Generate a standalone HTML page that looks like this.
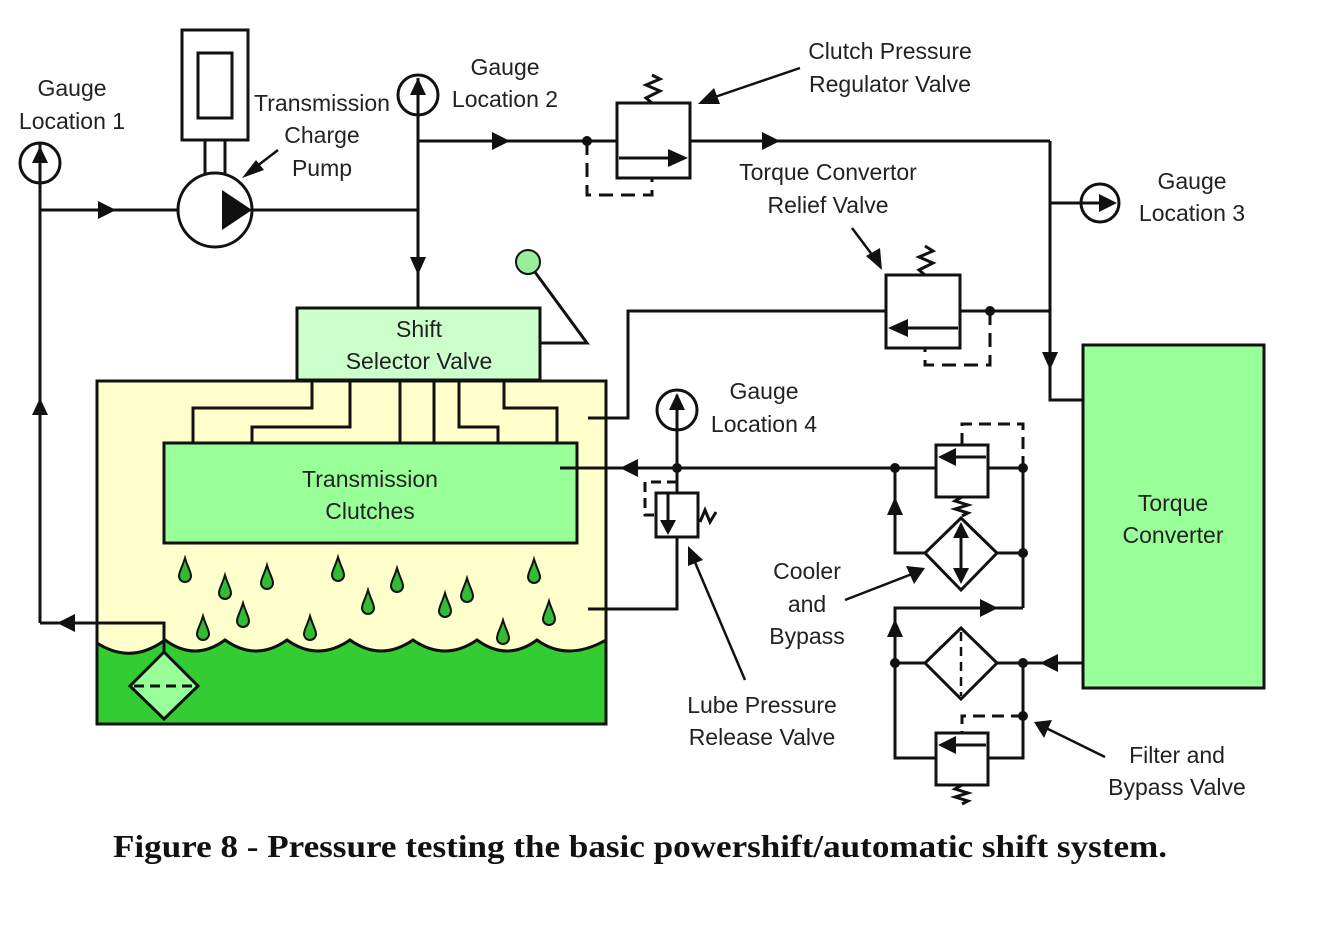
<!DOCTYPE html>
<html><head><meta charset="utf-8"><style>
html,body{margin:0;padding:0;background:#fff;}
svg{display:block}
text{font-family:"Liberation Sans",Arial,sans-serif;font-size:23px;fill:#222;}
</style></head><body>
<svg width="1334" height="931" viewBox="0 0 1334 931" xmlns="http://www.w3.org/2000/svg">
<g stroke="#111" stroke-width="3" fill="none">
<!-- sump box -->
<rect x="97" y="381" width="509" height="343" fill="#ffffcc"/>
<path d="M97,643 Q131,665 165,640 Q195,662 225,640 Q256,662 287,640 Q318,662 350,640 Q381,662 413,640 Q445,662 477,640 Q507,662 537,640 Q567,662 606,640 L606,724 L97,724 Z" fill="#33cc33"/>
<!-- selector -->
<rect x="297" y="308" width="243" height="72" fill="#ccffcc"/>
<!-- clutches -->
<rect x="164" y="443" width="413" height="100" fill="#99ff99"/>
<!-- selector to clutches lines -->
<polyline points="312,381 312,408 193,408 193,443"/>
<polyline points="350,381 350,427 252,427 252,443"/>
<line x1="400" y1="381" x2="400" y2="443"/>
<line x1="434" y1="381" x2="434" y2="443"/>
<polyline points="459,381 459,427 498,427 498,443"/>
<polyline points="504,381 504,408 557,408 557,443"/>
<!-- lever -->
<polyline points="540,343 587,343 532,268"/>
<circle cx="528" cy="262" r="12" fill="#99ee99" stroke-width="2"/>
<!-- torque converter -->
<rect x="1083" y="345" width="181" height="343" fill="#99ff99"/>
<!-- motor & pump -->
<rect x="182" y="30" width="66" height="110"/>
<rect x="198" y="53" width="34" height="65"/>
<line x1="205" y1="140" x2="205" y2="174"/>
<line x1="225" y1="140" x2="225" y2="174"/>
<circle cx="215" cy="210" r="37" fill="#fff"/>
<!-- gauge1 line -->
<line x1="40" y1="143" x2="40" y2="623"/>
<polyline points="40,623 164,623 164,652"/>
<line x1="40" y1="210" x2="178" y2="210"/>
<line x1="252" y1="210" x2="418" y2="210"/>
<circle cx="40" cy="163" r="20"/>
<line x1="40" y1="143" x2="40" y2="183"/>
<!-- gauge2 -->
<circle cx="418" cy="95" r="20"/>
<line x1="418" y1="78" x2="418" y2="308"/>
<line x1="418" y1="141" x2="617" y2="141"/>
<polyline points="587,141 587,195 652,195 652,178" stroke-dasharray="14,8"/>
<rect x="617" y="103" width="73" height="75"/>
<line x1="619" y1="158" x2="676" y2="158"/>
<polyline points="652,103 646,98 660,91 646,85 660,79 652,75"/>
<line x1="690" y1="141" x2="1050" y2="141"/>
<polyline points="1050,141 1050,400 1083,400"/>
<line x1="1050" y1="203" x2="1080" y2="203"/>
<circle cx="1100" cy="203" r="19"/>
<line x1="1081" y1="203" x2="1110" y2="203"/>
<!-- torque relief -->
<rect x="886" y="275" width="74" height="73"/>
<line x1="900" y1="328" x2="958" y2="328"/>
<polyline points="925,275 919,270 933,263 919,257 933,251 925,246"/>
<polyline points="990,311 990,365 925,365 925,348" stroke-dasharray="14,8"/>
<line x1="960" y1="311" x2="1050" y2="311"/>
<polyline points="886,311 628,311 628,418 588,418"/>
<!-- clutches feed -->
<line x1="560" y1="468" x2="895" y2="468"/>
<polyline points="588,609 677,609 677,537"/>
<!-- gauge4 -->
<circle cx="677" cy="410" r="20"/>
<line x1="677" y1="395" x2="677" y2="493"/>
<rect x="656" y="493" width="42" height="44"/>
<line x1="668" y1="493" x2="668" y2="522"/>
<polyline points="677,482 645,482 645,515 656,515" stroke-dasharray="10,6"/>
<polyline points="700,522 705,510 710,522 716,512"/>
<!-- right cluster -->
<rect x="936" y="445" width="52" height="52"/>
<line x1="948" y1="457" x2="986" y2="457"/>
<line x1="895" y1="468" x2="936" y2="468"/>
<line x1="988" y1="468" x2="1023" y2="468"/>
<polyline points="962,445 962,424 1023,424 1023,468" stroke-dasharray="12,7"/>
<polyline points="962,497 955,501 968,505 955,509 968,513 962,516"/>
<polyline points="895,468 895,553 925,553"/>
<path d="M961,518 L997,553 L961,590 L925,553 Z" fill="#fff"/>
<line x1="961" y1="532" x2="961" y2="576"/>
<line x1="997" y1="553" x2="1023" y2="553"/>
<line x1="1023" y1="468" x2="1023" y2="608"/>
<polyline points="1023,608 895,608 895,758 936,758"/>
<path d="M961,628 L997,663 L961,699 L925,663 Z" fill="#fff"/>
<line x1="961" y1="632" x2="961" y2="696" stroke-dasharray="9,6" stroke-width="2.5"/>
<line x1="895" y1="663" x2="925" y2="663"/>
<line x1="997" y1="663" x2="1083" y2="663"/>
<polyline points="1023,663 1023,758 988,758"/>
<polyline points="1023,716 962,716 962,733" stroke-dasharray="12,7"/>
<rect x="936" y="733" width="52" height="52"/>
<line x1="948" y1="745" x2="986" y2="745"/>
<polyline points="962,785 955,789 968,793 955,797 968,801 962,804"/>
<!-- sump filter -->
<path d="M164,652 L198,686 L164,719 L130,686 Z" fill="#99ff99"/>
<line x1="134" y1="686" x2="196" y2="686" stroke-dasharray="10,6"/>
<!-- leaders -->
<line x1="278" y1="150" x2="252" y2="170" stroke-width="2.5"/>
<line x1="800" y1="68" x2="712" y2="98" stroke-width="2.5"/>
<line x1="852" y1="228" x2="876" y2="260" stroke-width="2.5"/>
<line x1="745" y1="680" x2="694" y2="560" stroke-width="2.5"/>
<line x1="845" y1="600" x2="912" y2="574" stroke-width="2.5"/>
<line x1="1105" y1="757" x2="1046" y2="728" stroke-width="2.5"/>
</g>
<g fill="#111">
<!-- arrows -->
<polygon points="222,190 252,210 222,230"/>
<polygon points="98,201 116,210 98,219"/>
<polygon points="32,415 40,398 48,415"/>
<polygon points="32,163 40,146 48,163"/>
<polygon points="410,95 418,78 426,95"/>
<polygon points="410,257 418,275 426,257"/>
<polygon points="492,132 510,141 492,150"/>
<polygon points="668,149 688,158 668,167"/>
<polygon points="762,132 780,141 762,150"/>
<polygon points="1042,352 1050,370 1058,352"/>
<polygon points="1099,194 1117,203 1099,212"/>
<polygon points="908,319 888,328 908,337"/>
<polygon points="75,614 57,623 75,632"/>
<polygon points="638,459 620,468 638,477"/>
<polygon points="669,410 677,393 685,410"/>
<polygon points="660,520 668,535 676,520"/>
<polygon points="956,448 938,457 956,466"/>
<polygon points="887,515 895,497 903,515"/>
<polygon points="953,538 961,522 969,538"/>
<polygon points="953,568 961,584 969,568"/>
<polygon points="980,599 998,608 980,617"/>
<polygon points="887,637 895,619 903,637"/>
<polygon points="1058,654 1040,663 1058,672"/>
<polygon points="956,736 938,745 956,754"/>
<!-- leader heads -->
<polygon points="242,178 256,160 264,170"/>
<polygon points="698,104 714,88 720,104"/>
<polygon points="882,270 866,256 880,248"/>
<polygon points="688,546 688,566 703,560"/>
<polygon points="925,568 906,566 914,584"/>
<polygon points="1034,722 1044,738 1052,720"/>
<circle cx="587" cy="141" r="5"/>
<circle cx="990" cy="311" r="5"/>
<circle cx="677" cy="468" r="5"/>
<circle cx="895" cy="468" r="5"/>
<circle cx="1023" cy="468" r="5"/>
<circle cx="1023" cy="553" r="5"/>
<circle cx="895" cy="663" r="5"/>
<circle cx="1023" cy="663" r="5"/>
<circle cx="1023" cy="716" r="5"/>
</g>
<!-- drops -->
<g fill="#33bb33" stroke="#111" stroke-width="2">
<path d="M185,558 C188,568 191,572 191,576 A6,6 0 0 1 179,576 C179,572 182,568 185,558Z"/>
<path d="M225,575 C228,585 231,589 231,593 A6,6 0 0 1 219,593 C219,589 222,585 225,575Z"/>
<path d="M267,565 C270,575 273,579 273,583 A6,6 0 0 1 261,583 C261,579 264,575 267,565Z"/>
<path d="M338,557 C341,567 344,571 344,575 A6,6 0 0 1 332,575 C332,571 335,567 338,557Z"/>
<path d="M397,568 C400,578 403,582 403,586 A6,6 0 0 1 391,586 C391,582 394,578 397,568Z"/>
<path d="M467,578 C470,588 473,592 473,596 A6,6 0 0 1 461,596 C461,592 464,588 467,578Z"/>
<path d="M534,559 C537,569 540,573 540,577 A6,6 0 0 1 528,577 C528,573 531,569 534,559Z"/>
<path d="M203,616 C206,626 209,630 209,634 A6,6 0 0 1 197,634 C197,630 200,626 203,616Z"/>
<path d="M243,603 C246,613 249,617 249,621 A6,6 0 0 1 237,621 C237,617 240,613 243,603Z"/>
<path d="M310,616 C313,626 316,630 316,634 A6,6 0 0 1 304,634 C304,630 307,626 310,616Z"/>
<path d="M368,590 C371,600 374,604 374,608 A6,6 0 0 1 362,608 C362,604 365,600 368,590Z"/>
<path d="M445,593 C448,603 451,607 451,611 A6,6 0 0 1 439,611 C439,607 442,603 445,593Z"/>
<path d="M503,620 C506,630 509,634 509,638 A6,6 0 0 1 497,638 C497,634 500,630 503,620Z"/>
<path d="M549,601 C552,611 555,615 555,619 A6,6 0 0 1 543,619 C543,615 546,611 549,601Z"/>
</g>
<!-- labels -->
<g text-anchor="middle">
<text x="72" y="96">Gauge</text><text x="72" y="129">Location 1</text>
<text x="322" y="111">Transmission</text><text x="322" y="143">Charge</text><text x="322" y="176">Pump</text>
<text x="505" y="75">Gauge</text><text x="505" y="107">Location 2</text>
<text x="890" y="59">Clutch Pressure</text><text x="890" y="92">Regulator Valve</text>
<text x="828" y="180">Torque Convertor</text><text x="828" y="213">Relief Valve</text>
<text x="1192" y="189">Gauge</text><text x="1192" y="221">Location 3</text>
<text x="419" y="337">Shift</text><text x="419" y="369">Selector Valve</text>
<text x="370" y="487">Transmission</text><text x="370" y="519">Clutches</text>
<text x="764" y="399">Gauge</text><text x="764" y="432">Location 4</text>
<text x="1173" y="511">Torque</text><text x="1173" y="543">Converter</text>
<text x="807" y="579">Cooler</text><text x="807" y="612">and</text><text x="807" y="644">Bypass</text>
<text x="762" y="713">Lube Pressure</text><text x="762" y="745">Release Valve</text>
<text x="1177" y="763">Filter and</text><text x="1177" y="795">Bypass Valve</text>
</g>
<text x="113" y="857" textLength="1054" lengthAdjust="spacingAndGlyphs" style="font-family:'Liberation Serif',serif;font-weight:bold;font-size:32px;fill:#111">Figure 8 - Pressure testing the basic powershift/automatic shift system.</text>
</svg>
</body></html>
